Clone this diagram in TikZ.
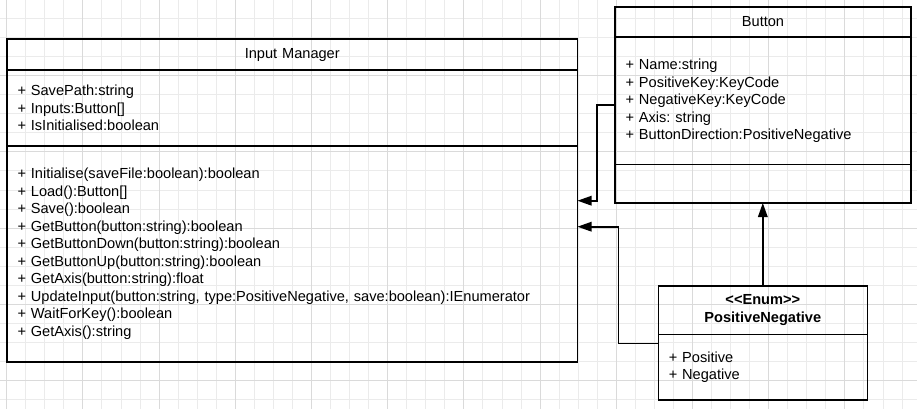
\documentclass[tikz,border=0pt]{standalone}
\usepackage{fontspec}
\setmainfont{Liberation Sans}
\usetikzlibrary{arrows.meta}
\definecolor{gridminor}{HTML}{EBEBEB}
\definecolor{gridmajor}{HTML}{DADADA}
\tikzset{
  compart/.style={draw, line width=1.6pt, outer sep=0pt, anchor=north west, align=left,
    inner xsep=10.5pt, inner ysep=0pt, font=\fontsize{14.6pt}{17.5pt}\selectfont\frenchspacing},
  classtitle/.style={compart, align=center},
  assoc/.style={line width=1.6pt, -{Triangle[length=14pt,width=9.5pt]}},
}
\begin{document}
\begin{tikzpicture}[x=1pt,y=-1pt]
\fill[white] (0,0) rectangle (917,409);
\useasboundingbox (0,0) rectangle (917,409);
% background grid
\begin{scope}
\clip (0,0) rectangle (917,409);
\foreach \k in {0,...,47} \draw[gridminor, line width=1pt] ({6.7+19.05*\k},0) -- ({6.7+19.05*\k},409);
\foreach \k in {0,...,21} \draw[gridminor, line width=1pt] (0,{-0.5+19.05*\k}) -- (917,{-0.5+19.05*\k});
\foreach \k in {0,4,...,44} \draw[gridmajor, line width=1pt] ({6.7+19.05*\k},0) -- ({6.7+19.05*\k},409);
\foreach \k in {0,4,...,20} \draw[gridmajor, line width=1pt] (0,{-0.5+19.05*\k}) -- (917,{-0.5+19.05*\k});
\end{scope}
% Input Manager
\node (imTitle) [classtitle, text width=549.5pt, minimum height=31pt] at (7,39) {Input Manager};
\node (imAttr) [compart, text width=549.5pt, minimum height=75.7pt] at (imTitle.south west)
  {+ SavePath:string\\+ Inputs:Button[]\\+ IsInitialised:boolean};
\node (imMeth) [compart, text width=549.5pt, minimum height=216pt] at (imAttr.south west)
  {+ Initialise(saveFile:boolean):boolean\\
   + Load():Button[]\\
   + Save():boolean\\
   + GetButton(button:string):boolean\\
   + GetButtonDown(button:string):boolean\\
   + GetButtonUp(button:string):boolean\\
   + GetAxis(button:string):float\\
   + UpdateInput(button:string, type:PositiveNegative, save:boolean):IEnumerator\\
   + WaitForKey():boolean\\
   + GetAxis():string};
% Button
\node (btnTitle) [classtitle, text width=275pt, minimum height=30pt] at (615,7) {Button};
\node (btnAttr) [compart, text width=275pt, minimum height=127.5pt] at (btnTitle.south west)
  {+ Name:string\\+ PositiveKey:KeyCode\\+ NegativeKey:KeyCode\\+ Axis: string\\+ ButtonDirection:PositiveNegative};
\node (btnMeth) [compart, text width=275pt, minimum height=38.5pt] at (btnAttr.south west) {};
% PositiveNegative
\node (enumTitle) [classtitle, text width=188pt, minimum height=48.3pt, font=\fontsize{14.6pt}{18pt}\selectfont\bfseries] at (658.3,286)
  {\textless\kern0pt\textless Enum\textgreater\kern0pt\textgreater\\PositiveNegative};
\node (enumAttr) [compart, text width=188pt, minimum height=65.5pt] at (enumTitle.south west)
  {+ Positive\\+ Negative};
% connectors
\draw[assoc] ([yshift=-4.25pt]btnAttr.west) -| ([xshift=19.2pt,yshift=53pt]imMeth.east) -- ([yshift=53pt]imMeth.east);
\draw[assoc] ([yshift=23.7pt]enumAttr.west) -| ([xshift=40.8pt,yshift=27pt]imMeth.east) -- ([yshift=27pt]imMeth.east);
\draw[assoc] (enumTitle.north) -- (enumTitle.north |- btnMeth.south);
\end{tikzpicture}
\end{document}
